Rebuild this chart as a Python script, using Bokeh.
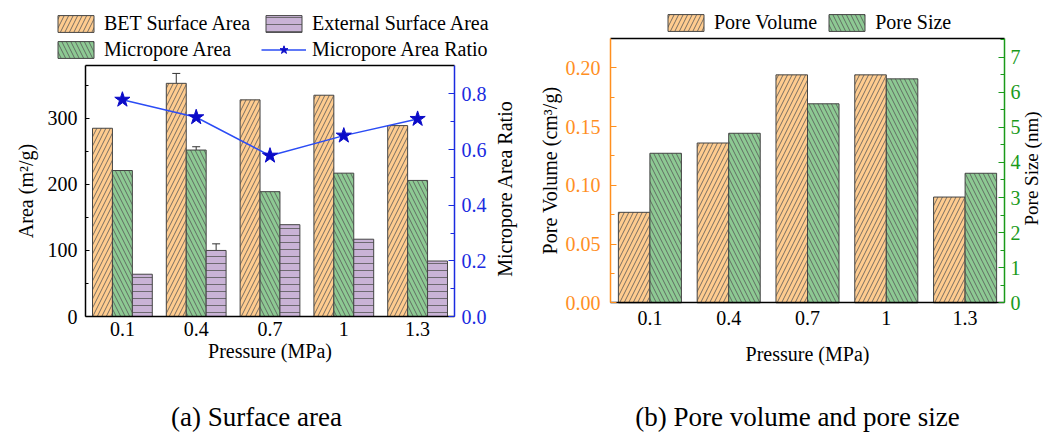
import math
from bokeh.plotting import figure
from bokeh.models import (ColumnDataSource, Range1d, LinearAxis, Legend, LegendItem, Whisker,
                          TeeHead, FixedTicker, PrintfTickFormatter, Label)
from bokeh.transform import dodge
from bokeh.layouts import row
from bokeh.embed import file_html
from bokeh.resources import INLINE

# ---------------- data ----------------
pressures = ["0.1", "0.4", "0.7", "1", "1.3"]
bet_area = [285, 353, 328, 335, 289]
bet_err = [0, 15, 0, 0, 0]
micropore_area = [221, 252, 189, 217, 206]
micropore_err = [0, 5, 0, 0, 0]
external_area = [64, 100, 139, 117, 84]
external_err = [0, 10, 0, 0, 0]
micropore_ratio = [0.779, 0.716, 0.578, 0.650, 0.710]
pore_volume = [0.077, 0.136, 0.194, 0.194, 0.090]
pore_size = [4.26, 4.83, 5.67, 6.38, 3.69]

FONT = "Liberation Serif"
FS = "20px"
ORANGE = "#FFCC8F"
GREEN = "#8DC993"
PURPLE = "#C9B3D6"
BLUE_LINE = "#2B4CF5"
STAR = "#0B0BC8"
BLUE_AXIS = "#1A2BE0"
AX_ORANGE = "#FF8F1F"
AX_GREEN = "#1A9A1A"
EDGE = "#444444"
HATCH = "#555555"

H = 433
idx = list(range(len(pressures)))
labels = {i: s for i, s in zip(idx, pressures)}


def px_map(px_a, val_a, px_b, val_b):
    k = (val_b - val_a) / (px_b - px_a)
    return lambda px: val_a + (px - px_a) * k


def style_axis(ax, color, major_in=6, minor_in=4):
    ax.axis_line_color = color
    ax.axis_line_width = 1.5
    ax.major_tick_line_color = color
    ax.minor_tick_line_color = color
    ax.major_tick_in = major_in
    ax.major_tick_out = 0
    ax.minor_tick_in = minor_in
    ax.minor_tick_out = 0
    ax.major_label_text_color = color
    ax.major_label_text_font = FONT
    ax.major_label_text_font_size = FS
    ax.axis_label_text_font = FONT
    ax.axis_label_text_font_size = FS
    ax.axis_label_text_font_style = "normal"
    ax.axis_label_text_color = "black"


def make_xaxis(p, label_standoff, title_standoff):
    ax = LinearAxis(fixed_location=0, bounds=(-0.5, 4.5), ticker=FixedTicker(ticks=idx),
                    major_label_overrides=labels, axis_label="Pressure (MPa)")
    style_axis(ax, "black", 0, 0)
    ax.major_tick_line_color = None
    ax.minor_tick_line_color = None
    ax.major_label_standoff = label_standoff
    ax.axis_label_standoff = title_standoff
    p.add_layout(ax, "below")


def make_top(p, loc):
    ax = LinearAxis(fixed_location=loc, bounds=(-0.5, 4.5), ticker=FixedTicker(ticks=[]))
    ax.axis_line_color = "black"
    ax.axis_line_width = 1.5
    ax.major_tick_line_color = None
    ax.minor_tick_line_color = None
    ax.major_label_text_font_size = "0px"
    p.add_layout(ax, "above")


def make_legend(items, x, y_top, spacing=7, label_width=20):
    # x: left edge in canvas px, y_top: top edge in canvas px (row height 21)
    return Legend(items=items, location=(x, H - y_top - 21), orientation="horizontal",
                  margin=0, padding=0, spacing=spacing, border_line_color=None,
                  background_fill_alpha=0, glyph_width=45, glyph_height=21, label_standoff=6,
                  label_width=label_width, label_text_font=FONT, label_text_font_size=FS,
                  label_height=21, label_text_color="black")


def side_title(p, text, x, y, size=FS, y_range_name="default"):
    p.add_layout(Label(x=x, y=y, y_range_name=y_range_name, text=text, angle=math.pi / 2,
                       text_align="center", text_baseline="middle", text_font=FONT,
                       text_font_size=size, text_color="black"))


def base_fig(width, xr, yr):
    p = figure(width=width, height=H, x_range=xr, y_range=yr, output_backend="svg",
               toolbar_location=None, x_axis_type=None, y_axis_type=None,
               min_border_left=0, min_border_right=0, min_border_top=0, min_border_bottom=0)
    p.xgrid.visible = False
    p.ygrid.visible = False
    p.outline_line_color = None
    p.background_fill_color = "white"
    p.border_fill_color = "white"
    return p


# ---------------- (a) Surface area ----------------
W1 = 520
fx1 = px_map(85, -0.5, 454, 4.5)
fy1 = px_map(316, 0, 65, 380)
fr1 = px_map(316, 0, 65, 0.902)
p1 = base_fig(W1, Range1d(fx1(0), fx1(W1)), Range1d(fy1(H), fy1(0)))
p1.extra_y_ranges = {"ratio": Range1d(fr1(H), fr1(0))}

src1 = ColumnDataSource(dict(x=idx, bet=bet_area, mic=micropore_area,
                             ext=external_area, ratio=micropore_ratio))
BW = 0.27
r_bet = p1.vbar(x=dodge("x", -BW), top="bet", width=BW, source=src1,
                fill_color=ORANGE, line_color=EDGE, hatch_pattern="/", hatch_color=HATCH,
                hatch_scale=9, hatch_weight=0.8)
r_mic = p1.vbar(x=dodge("x", 0), top="mic", width=BW, source=src1,
                fill_color=GREEN, line_color=EDGE, hatch_pattern="\\", hatch_color=HATCH,
                hatch_scale=9, hatch_weight=0.8)
r_ext = p1.vbar(x=dodge("x", BW), top="ext", width=BW, source=src1,
                fill_color=PURPLE, line_color=EDGE, hatch_pattern="-", hatch_color=HATCH,
                hatch_scale=7, hatch_weight=0.8)

for vals, errs, off in ((bet_area, bet_err, -BW), (micropore_area, micropore_err, 0),
                        (external_area, external_err, BW)):
    sel = [i for i in idx if errs[i] > 0]
    es = ColumnDataSource(dict(x=sel, upper=[vals[i] + errs[i] for i in sel],
                               lower=[vals[i] - errs[i] for i in sel]))
    p1.add_layout(Whisker(base=dodge("x", off), upper="upper", lower="lower", source=es,
                          line_color="#333333", line_width=1,
                          upper_head=TeeHead(size=8, line_color="#333333", line_width=1),
                          lower_head=TeeHead(size=8, line_color="#333333", line_width=1)))

r_line = p1.line(x="x", y="ratio", source=src1, y_range_name="ratio",
                 line_color=BLUE_LINE, line_width=1.5)
r_star = p1.scatter(x="x", y="ratio", source=src1, y_range_name="ratio", marker="star",
                    size=16, fill_color=STAR, line_color=STAR)

yl = LinearAxis(fixed_location=-0.5, bounds=(0, 380), axis_label="Area (m²/g)",
                ticker=FixedTicker(ticks=[0, 100, 200, 300], minor_ticks=[50, 150, 250, 350]))
style_axis(yl, "black", 4, 3)
yl.major_label_standoff = 8
yl.axis_label_standoff = 8
p1.add_layout(yl, "left")

yr = LinearAxis(y_range_name="ratio", fixed_location=4.5, bounds=(0, 0.902),
                ticker=FixedTicker(ticks=[0, 0.2, 0.4, 0.6, 0.8], minor_ticks=[0.1, 0.3, 0.5, 0.7]),
                formatter=PrintfTickFormatter(format="%.1f"))
style_axis(yr, BLUE_AXIS, 6, 4)
yr.major_label_standoff = 7
p1.add_layout(yr, "right")
side_title(p1, "Micropore Area Ratio", fx1(504), fy1(188))

make_xaxis(p1, 5, 1)
make_top(p1, 380)

p1.add_layout(make_legend([LegendItem(label="BET Surface Area", renderers=[r_bet]),
                           LegendItem(label="External Surface Area", renderers=[r_ext])],
                          53, 14, label_width=150))
p1.add_layout(make_legend([LegendItem(label="Micropore Area", renderers=[r_mic]),
                           LegendItem(label="Micropore Area Ratio", renderers=[r_line, r_star])],
                          53, 40, label_width=150))

p1.add_layout(Label(x=fx1(256), y=fy1(416), text="(a) Surface area", text_align="center",
                    text_baseline="middle", text_font=FONT, text_font_size="27px",
                    text_color="black"))

# ---------------- (b) Pore volume and pore size ----------------
W2 = 1044 - W1
fx2 = px_map(610 - W1, -0.5, 1004 - W1, 4.5)
fy2 = px_map(302.3, 0, 67.3, 0.2)
fs2 = px_map(302.3, 0, 56.6, 7)
p2 = base_fig(W2, Range1d(fx2(0), fx2(W2)), Range1d(fy2(H), fy2(0)))
p2.extra_y_ranges = {"size": Range1d(fs2(H), fs2(0))}

src2 = ColumnDataSource(dict(x=idx, vol=pore_volume, size=pore_size))
BW2 = 0.4
r_vol = p2.vbar(x=dodge("x", -BW2 / 2), top="vol", width=BW2, source=src2,
                fill_color=ORANGE, line_color=EDGE, hatch_pattern="/", hatch_color=HATCH,
                hatch_scale=9, hatch_weight=0.8)
r_size = p2.vbar(x=dodge("x", BW2 / 2), top="size", width=BW2, source=src2,
                 y_range_name="size", fill_color=GREEN, line_color=EDGE, hatch_pattern="\\",
                 hatch_color=HATCH, hatch_scale=9, hatch_weight=0.8)

top2 = fy2(38)
vl = LinearAxis(fixed_location=-0.5, bounds=(0, top2), axis_label="Pore Volume (cm³/g)",
                ticker=FixedTicker(ticks=[0, 0.05, 0.10, 0.15, 0.20],
                                   minor_ticks=[0.025, 0.075, 0.125, 0.175]),
                formatter=PrintfTickFormatter(format="%.2f"))
style_axis(vl, AX_ORANGE, 6, 4)
vl.major_label_standoff = 10
vl.axis_label_standoff = 2
p2.add_layout(vl, "left")

vr = LinearAxis(y_range_name="size", fixed_location=4.5, bounds=(0, fs2(38)),
                ticker=FixedTicker(ticks=[0, 1, 2, 3, 4, 5, 6, 7],
                                   minor_ticks=[0.5, 1.5, 2.5, 3.5, 4.5, 5.5, 6.5, 7.5]),
                formatter=PrintfTickFormatter(format="%d"))
style_axis(vr, AX_GREEN, 6, 4)
vr.major_label_standoff = 6
p2.add_layout(vr, "right")
side_title(p2, "Pore Size (nm)", fx2(1031 - W1), fy2(168), size="19px")

make_xaxis(p2, 8, 15)
make_top(p2, top2)

p2.add_layout(make_legend([LegendItem(label="Pore Volume", renderers=[r_vol]),
                           LegendItem(label="Pore Size", renderers=[r_size])],
                          663 - W1, 13, spacing=7))

p2.add_layout(Label(x=fx2(797 - W1), y=fy2(416), text="(b) Pore volume and pore size",
                    text_align="center", text_baseline="middle", text_font=FONT,
                    text_font_size="27px", text_color="black"))

layout = row(p1, p2, spacing=0)
open("out.html", "w").write(file_html(layout, INLINE))
